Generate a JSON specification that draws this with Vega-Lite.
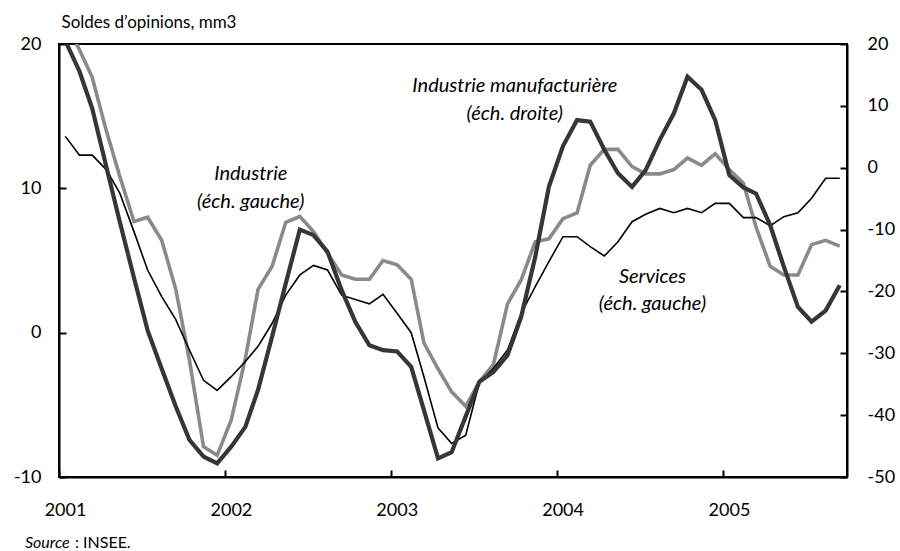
{
  "$schema": "https://vega.github.io/schema/vega-lite/v6.json",
  "width": 788,
  "height": 433,
  "autosize": {"type": "none"},
  "padding": {"left": 59, "top": 44, "right": 53, "bottom": 74},
  "background": "white",
  "config": {
    "font": "Lato",
    "view": {"stroke": "black", "strokeWidth": 2},
    "axis": {
      "grid": false,
      "labelFont": "Lato",
      "labelFontSize": 18,
      "labelColor": "black",
      "tickColor": "black",
      "tickWidth": 2,
      "domainColor": "black",
      "domainWidth": 2,
      "labelFlush": false,
      "labelOverlap": false,
      "labelBound": false
    }
  },
  "datasets": {
    "series": [
      {"date": "2001-01-15", "industrie": 21.5, "services": 13.6, "manufacturiere": 20.5},
      {"date": "2001-02-15", "industrie": 19.6, "services": 12.3, "manufacturiere": 15.6},
      {"date": "2001-03-15", "industrie": 17.7, "services": 12.3, "manufacturiere": 9.6},
      {"date": "2001-04-15", "industrie": 14.0, "services": 11.3, "manufacturiere": 0.2},
      {"date": "2001-05-15", "industrie": 10.8, "services": 9.65, "manufacturiere": -8.8},
      {"date": "2001-06-15", "industrie": 7.7, "services": 7.0, "manufacturiere": -17.8},
      {"date": "2001-07-15", "industrie": 8.0, "services": 4.34, "manufacturiere": -26.3},
      {"date": "2001-08-15", "industrie": 6.4, "services": 2.5, "manufacturiere": -32.5},
      {"date": "2001-09-15", "industrie": 3.0, "services": 0.9, "manufacturiere": -38.6},
      {"date": "2001-10-15", "industrie": -1.9, "services": -1.2, "manufacturiere": -44.0},
      {"date": "2001-11-15", "industrie": -7.9, "services": -3.3, "manufacturiere": -46.7},
      {"date": "2001-12-15", "industrie": -8.5, "services": -4.0, "manufacturiere": -47.8},
      {"date": "2002-01-15", "industrie": -6.05, "services": -3.05, "manufacturiere": -45.1},
      {"date": "2002-02-15", "industrie": -1.8, "services": -2.0, "manufacturiere": -41.9},
      {"date": "2002-03-15", "industrie": 3.0, "services": -0.95, "manufacturiere": -35.9},
      {"date": "2002-04-15", "industrie": 4.6, "services": 0.65, "manufacturiere": -27.3},
      {"date": "2002-05-15", "industrie": 7.65, "services": 2.6, "manufacturiere": -18.7},
      {"date": "2002-06-15", "industrie": 8.05, "services": 4.0, "manufacturiere": -10.0},
      {"date": "2002-07-15", "industrie": 7.0, "services": 4.66, "manufacturiere": -10.9},
      {"date": "2002-08-15", "industrie": 5.5, "services": 4.34, "manufacturiere": -13.6},
      {"date": "2002-09-15", "industrie": 4.0, "services": 2.6, "manufacturiere": -19.8},
      {"date": "2002-10-15", "industrie": 3.7, "services": 2.3, "manufacturiere": -24.9},
      {"date": "2002-11-15", "industrie": 3.7, "services": 2.0, "manufacturiere": -28.7},
      {"date": "2002-12-15", "industrie": 5.0, "services": 2.66, "manufacturiere": -29.5},
      {"date": "2003-01-15", "industrie": 4.7, "services": 1.34, "manufacturiere": -29.7},
      {"date": "2003-02-15", "industrie": 3.7, "services": 0.0, "manufacturiere": -32.2},
      {"date": "2003-03-15", "industrie": -0.7, "services": -3.05, "manufacturiere": -39.2},
      {"date": "2003-04-15", "industrie": -2.5, "services": -6.6, "manufacturiere": -47.0},
      {"date": "2003-05-15", "industrie": -4.1, "services": -7.67, "manufacturiere": -46.0},
      {"date": "2003-06-15", "industrie": -5.1, "services": -7.1, "manufacturiere": -40.2},
      {"date": "2003-07-15", "industrie": -3.4, "services": -3.45, "manufacturiere": -34.6},
      {"date": "2003-08-15", "industrie": -2.2, "services": -2.47, "manufacturiere": -33.0},
      {"date": "2003-09-15", "industrie": 2.0, "services": -1.2, "manufacturiere": -30.3},
      {"date": "2003-10-15", "industrie": 3.65, "services": 1.34, "manufacturiere": -24.1},
      {"date": "2003-11-15", "industrie": 6.3, "services": 3.19, "manufacturiere": -14.4},
      {"date": "2003-12-15", "industrie": 6.5, "services": 4.92, "manufacturiere": -3.1},
      {"date": "2004-01-15", "industrie": 7.9, "services": 6.65, "manufacturiere": 3.5},
      {"date": "2004-02-15", "industrie": 8.3, "services": 6.65, "manufacturiere": 7.7},
      {"date": "2004-03-15", "industrie": 11.6, "services": 5.96, "manufacturiere": 7.45},
      {"date": "2004-04-15", "industrie": 12.7, "services": 5.31, "manufacturiere": 2.9},
      {"date": "2004-05-15", "industrie": 12.7, "services": 6.3, "manufacturiere": -0.9},
      {"date": "2004-06-15", "industrie": 11.5, "services": 7.69, "manufacturiere": -3.1},
      {"date": "2004-07-15", "industrie": 11.0, "services": 8.2, "manufacturiere": -0.4},
      {"date": "2004-08-15", "industrie": 11.0, "services": 8.61, "manufacturiere": 4.5},
      {"date": "2004-09-15", "industrie": 11.3, "services": 8.31, "manufacturiere": 8.8},
      {"date": "2004-10-15", "industrie": 12.1, "services": 8.61, "manufacturiere": 14.7},
      {"date": "2004-11-15", "industrie": 11.6, "services": 8.31, "manufacturiere": 12.6},
      {"date": "2004-12-15", "industrie": 12.4, "services": 8.96, "manufacturiere": 7.7},
      {"date": "2005-01-15", "industrie": 11.3, "services": 8.96, "manufacturiere": -1.2},
      {"date": "2005-02-15", "industrie": 10.35, "services": 7.97, "manufacturiere": -3.2},
      {"date": "2005-03-15", "industrie": 7.3, "services": 7.97, "manufacturiere": -4.2},
      {"date": "2005-04-15", "industrie": 4.6, "services": 7.41, "manufacturiere": -9.3},
      {"date": "2005-05-15", "industrie": 4.0, "services": 8.04, "manufacturiere": -16.0},
      {"date": "2005-06-15", "industrie": 4.0, "services": 8.31, "manufacturiere": -22.5},
      {"date": "2005-07-15", "industrie": 6.1, "services": 9.31, "manufacturiere": -24.9},
      {"date": "2005-08-15", "industrie": 6.4, "services": 10.7, "manufacturiere": -23.1},
      {"date": "2005-09-15", "industrie": 6.0, "services": 10.7, "manufacturiere": -19.0}
    ],
    "one": [{"n": 1}]
  },
  "layer": [
    {
      "layer": [
        {
          "data": {"name": "series"},
          "mark": {"type": "line", "clip": true, "color": "#8a8a8a", "strokeWidth": 3.6, "strokeJoin": "miter"},
          "encoding": {
            "x": {
              "field": "date",
              "type": "temporal",
              "scale": {"type": "utc", "domain": [{"year": 2001, "month": 1, "date": 1, "utc": true}, {"year": 2005, "month": 10, "date": 1, "utc": true}]},
              "axis": {
                "values": [
                  {"year": 2001, "month": 1, "date": 1, "utc": true},
                  {"year": 2002, "month": 1, "date": 1, "utc": true},
                  {"year": 2003, "month": 1, "date": 1, "utc": true},
                  {"year": 2004, "month": 1, "date": 1, "utc": true},
                  {"year": 2005, "month": 1, "date": 1, "utc": true}
                ],
                "labelExpr": "utcFormat(datum.value, '%Y')",
                "tickSize": -7,
                "labelPadding": 31,
                "labelOffset": 6,
                "title": null
              }
            },
            "y": {
              "field": "industrie",
              "type": "quantitative",
              "scale": {"domain": [-10, 20], "nice": false, "zero": false},
              "axis": {
                "orient": "left",
                "values": [-10, 0, 10, 20],
                "tickSize": -7,
                "labelPadding": 25,
                "labelExpr": "'' + datum.value",
                "title": "Soldes d’opinions, mm3",
                "titleAngle": 0,
                "titleAlign": "left",
                "titleBaseline": "middle",
                "titleX": 2,
                "titleY": -22,
                "titleFont": "Lato",
                "titleFontSize": 17,
                "titleFontWeight": "normal",
                "titleColor": "black"
              }
            }
          }
        },
        {
          "data": {"name": "series"},
          "mark": {"type": "line", "clip": true, "color": "black", "strokeWidth": 1.6},
          "encoding": {
            "x": {"field": "date", "type": "temporal"},
            "y": {"field": "services", "type": "quantitative", "scale": {"domain": [-10, 20], "nice": false, "zero": false}}
          }
        },
        {
          "data": {"name": "one"},
          "mark": {"type": "text", "font": "Lato", "fontStyle": "italic", "fontSize": 20, "align": "center", "baseline": "alphabetic", "lineHeight": 28, "color": "black", "text": ["Industrie", "(éch. gauche)"]},
          "encoding": {
            "x": {"datum": {"year": 2002, "month": 2, "date": 27, "utc": true}, "type": "temporal"},
            "y": {"datum": 10.58, "type": "quantitative"}
          }
        },
        {
          "data": {"name": "one"},
          "mark": {"type": "text", "font": "Lato", "fontStyle": "italic", "fontSize": 20, "align": "center", "baseline": "alphabetic", "lineHeight": 28, "color": "black", "text": ["Industrie manufacturière", "(éch. droite)"]},
          "encoding": {
            "x": {"datum": {"year": 2003, "month": 10, "date": 1, "utc": true}, "type": "temporal"},
            "y": {"datum": 16.7, "type": "quantitative"}
          }
        },
        {
          "data": {"name": "one"},
          "mark": {"type": "text", "font": "Lato", "fontStyle": "italic", "fontSize": 20, "align": "center", "baseline": "alphabetic", "lineHeight": 27, "color": "black", "text": ["Services", "(éch. gauche)"]},
          "encoding": {
            "x": {"datum": {"year": 2004, "month": 7, "date": 30, "utc": true}, "type": "temporal"},
            "y": {"datum": 3.44, "type": "quantitative"}
          }
        },
        {
          "data": {"name": "one"},
          "mark": {"type": "text", "font": "Lato", "fontStyle": "italic", "fontSize": 16, "align": "left", "baseline": "alphabetic", "color": "black", "text": "Source"},
          "encoding": {
            "x": {"datum": {"year": 2000, "month": 10, "date": 18, "utc": true}, "type": "temporal"},
            "y": {"datum": -14.93, "type": "quantitative"}
          }
        },
        {
          "data": {"name": "one"},
          "mark": {"type": "text", "font": "Lato", "fontSize": 16, "align": "left", "baseline": "alphabetic", "color": "black", "dx": 50, "text": ": INSEE."},
          "encoding": {
            "x": {"datum": {"year": 2000, "month": 10, "date": 18, "utc": true}, "type": "temporal"},
            "y": {"datum": -14.93, "type": "quantitative"}
          }
        }
      ]
    },
    {
      "data": {"name": "series"},
      "mark": {"type": "line", "clip": true, "color": "#363636", "strokeWidth": 4.2, "strokeJoin": "miter"},
      "encoding": {
        "x": {"field": "date", "type": "temporal"},
        "y": {
          "field": "manufacturiere",
          "type": "quantitative",
          "scale": {"domain": [-50, 20], "nice": false, "zero": false},
          "axis": {
            "orient": "right",
            "values": [-50, -40, -30, -20, -10, 0, 10, 20],
            "tickSize": -7,
            "labelPadding": 27,
            "labelExpr": "'' + datum.value",
            "title": null
          }
        }
      }
    }
  ],
  "resolve": {"scale": {"y": "independent"}}
}
